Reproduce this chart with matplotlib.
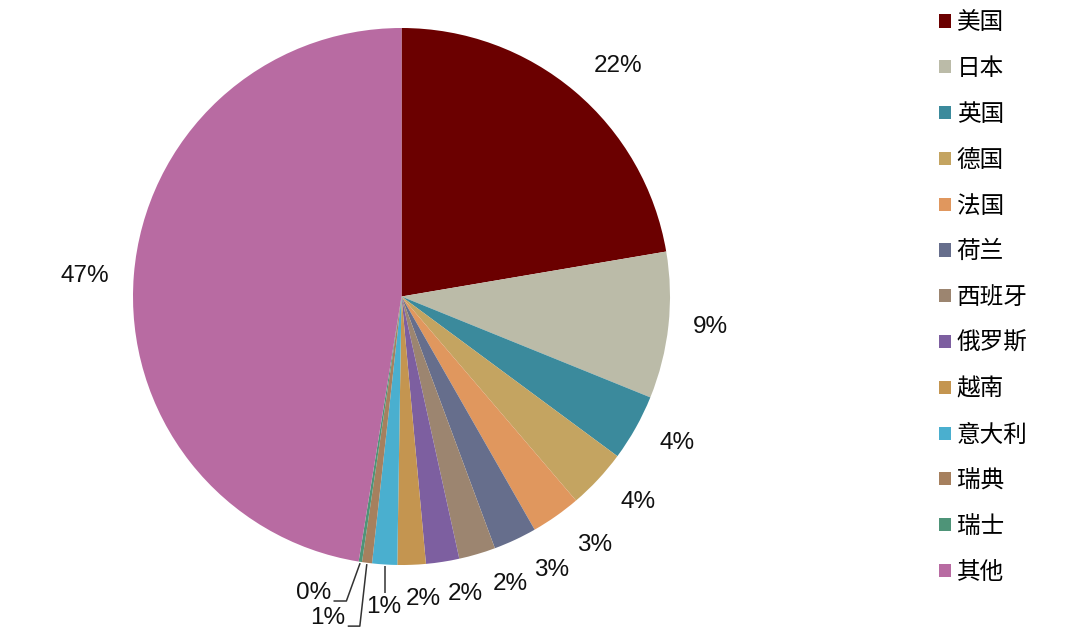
import numpy as np
import matplotlib.pyplot as plt

plt.rcParams['font.family'] = ['Liberation Sans', 'Noto Sans CJK SC', 'DejaVu Sans']

countries = ['美国', '日本', '英国', '德国', '法国', '荷兰', '西班牙',
             '俄罗斯', '越南', '意大利', '瑞典', '瑞士', '其他']
shares = [22.3, 8.8, 4.0, 3.6, 3.0, 2.6, 2.2, 2.0, 1.7, 1.5, 0.6, 0.2, 47.4]
colors = ['#6B0000', '#BBBBA8', '#3B8A9C', '#C4A461', '#E0975E', '#666E8C',
          '#9C8570', '#7D5FA0', '#C49550', '#4AAFCF', '#A6805E', '#4E9478',
          '#B86BA2']
labels = ['22%', '9%', '4%', '4%', '3%', '3%', '2%', '2%', '2%', '1%', '1%', '0%', '47%']

# px per unit radius and pie center in pixels
W, H, R = 1080, 637, 268.5
CX, CY = 401.5, 296.5

fig = plt.figure(figsize=(W / 100, H / 100), dpi=100)
ax = fig.add_axes([0, 0, 1, 1])
wedges, _ = ax.pie(shares, colors=colors, startangle=90, counterclock=False,
                   radius=1, wedgeprops=dict(linewidth=0))
ax.set_xlim(-CX / R, (W - CX) / R)
ax.set_ylim(-(H - CY) / R, CY / R)
ax.set_aspect('auto')
ax.axis('off')

total = sum(shares)
cum = np.cumsum([0] + shares[:-1])
mid = 90 - 360 * (cum + np.array(shares) / 2) / total

# label nudges in pixels (dx right, dy down)
nudge = [(12, -1), (3, -2), (7, 0), (11, 1), (16, 3), (20, 2), (22, 0),
         (17, 1), (10, 3), None, None, None, (-1, 4)]

fs = 17.5
gap = 0.085
for i, (lab, a) in enumerate(zip(labels, mid)):
    if nudge[i] is None:
        continue
    c, s = np.cos(np.radians(a)), np.sin(np.radians(a))
    hw = 0.031 * len(lab)
    x = (1 + gap) * c + hw * c + nudge[i][0] / R
    y = (1 + gap) * s + 0.032 * s - nudge[i][1] / R
    ax.text(x, y, lab, ha='center', va='center', fontsize=fs, color='#111111')

# leader labels for the thin slices: (line bend, line end, text centre)
leaders = {
    9: [(0.0, -0.102), None, (-0.005, -0.153)],
    10: [(-0.026, -0.231), (-0.071, -0.231), (-0.145, -0.201)],
    11: [(-0.051, -0.141), (-0.099, -0.141), (-0.173, -0.111)],
}
for i, (p1, p2, t) in leaders.items():
    c, s = np.cos(np.radians(mid[i])), np.sin(np.radians(mid[i]))
    x0, y0 = 1.005 * c, 1.005 * s
    xs = [x0, x0 + p1[0]]
    ys = [y0, y0 + p1[1]]
    if p2 is not None:
        xs.append(x0 + p2[0])
        ys.append(y0 + p2[1])
    ax.plot(xs, ys, color='#333333', lw=1.1, solid_capstyle='butt')
    ax.text(x0 + t[0], y0 + t[1], labels[i], ha='center', va='center',
            fontsize=fs, color='#111111')

lfs = 17
leg = ax.legend(wedges, countries, loc='upper left',
                bbox_to_anchor=(930 / W, 1 - 2 / H), bbox_transform=fig.transFigure,
                frameon=False, handlelength=0.48, handleheight=0.48,
                handletextpad=0.25, labelspacing=0.965, borderaxespad=0,
                prop={'family': ['Noto Sans CJK SC'], 'size': lfs})

fig.savefig('out.png', dpi=100)
